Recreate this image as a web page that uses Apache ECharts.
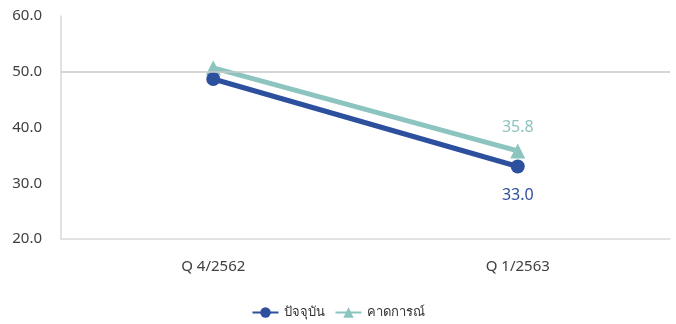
<!DOCTYPE html>
<html><head><meta charset="utf-8">
<script src="https://cdn.jsdelivr.net/npm/echarts@6/dist/echarts.min.js"></script>
<style>html,body{margin:0;padding:0;background:#fff}#c{width:676px;height:324px}</style>
</head><body><div id="c"></div>
<script>
var categories = ['Q 4/2562', 'Q 1/2563'];
var seriesNames = ['ปัจจุบัน', 'คาดการณ์'];
var currentValues = [48.7, 33.0];
var forecastValues = [50.7, 35.8];
var yTicks = [20, 30, 40, 50, 60];

var blue = '#2C4F9E', teal = '#8CC4BF';
var font = "'Noto Sans', 'DejaVu Sans', sans-serif";
var chart = echarts.init(document.getElementById('c'));
chart.setOption({
  animation: false,
  textStyle: {fontFamily: font},
  grid: {left: 61, right: 6, top: 16, bottom: 85},
  legend: {
    bottom: 0, left: 'center', itemWidth: 26, itemHeight: 13, itemGap: 10,
    textStyle: {fontSize: 13, color: '#333', fontFamily: font},
    data: seriesNames
  },
  xAxis: {
    type: 'category', data: categories, boundaryGap: true,
    axisLine: {lineStyle: {color: '#d9d9d9', width: 1.5}},
    axisTick: {show: false},
    axisLabel: {fontSize: 15, color: '#404040', margin: 20}
  },
  yAxis: {
    type: 'value', min: yTicks[0], max: yTicks[yTicks.length - 1], interval: 10,
    axisLine: {show: true, lineStyle: {color: '#d9d9d9', width: 1.5}},
    axisTick: {show: false},
    splitLine: {show: false},
    axisLabel: {fontSize: 15, color: '#404040', margin: 19, formatter: function (v) { return v.toFixed(1); }}
  },
  series: [
    {
      name: seriesNames[0], type: 'line', data: currentValues,
      symbol: 'circle', symbolSize: 14, z: 3,
      lineStyle: {color: blue, width: 5}, itemStyle: {color: blue},
      label: {show: true, position: 'bottom', distance: 14, fontSize: 16, color: blue,
        formatter: function (p) { return p.dataIndex === 1 ? p.value.toFixed(1) : ''; }},
      markLine: {silent: true, symbol: 'none', label: {show: false},
        lineStyle: {color: '#c8c8c8', width: 1.5, type: 'solid'}, data: [{yAxis: 50}]}
    },
    {
      name: seriesNames[1], type: 'line', data: forecastValues,
      symbol: 'triangle', symbolSize: 15, z: 2,
      lineStyle: {color: teal, width: 5}, itemStyle: {color: teal},
      label: {show: true, position: 'top', distance: 8, fontSize: 16, color: teal,
        formatter: function (p) { return p.dataIndex === 1 ? p.value.toFixed(1) : ''; }}
    }
  ]
});
</script></body></html>
